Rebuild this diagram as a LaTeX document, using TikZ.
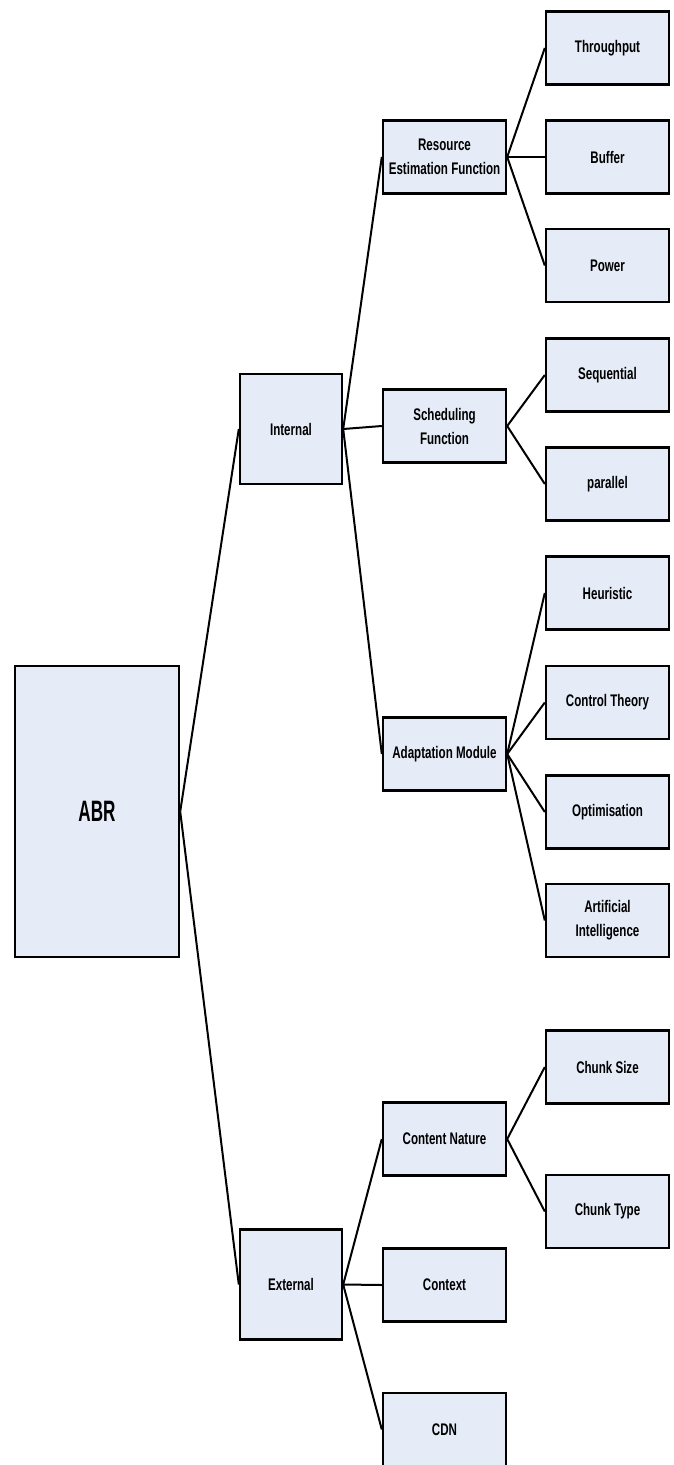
\documentclass[tikz,border=0pt]{standalone}
\usepackage{fontspec}
\setmainfont{Liberation Sans}[FakeStretch=0.69]
\newfontfamily\rootfont{Liberation Sans}[FakeStretch=0.58]
\definecolor{boxfill}{RGB}{230,236,247}
\begin{document}
\begin{tikzpicture}[x=1pt,y=-1pt,
  box/.style={draw=black, fill=boxfill, line width=2.4pt, inner sep=0pt,
    align=center, font=\bfseries\fontsize{16.8}{24}\selectfont},
  rootbox/.style={box, minimum width=164pt, minimum height=291pt,
    font=\rootfont\bfseries\fontsize{29.5}{32}\selectfont},
  midbox/.style={box, minimum width=102pt, minimum height=110pt},
  subbox/.style={box, minimum width=123pt, minimum height=73pt},
  leafbox/.style={box, minimum width=123pt, minimum height=73pt},
  link/.style={draw=black, line width=2pt}]
\useasboundingbox (0,0) rectangle (673,1465);

% root
\node[rootbox] (abr) at (97,811.5) {ABR};

% first level
\node[midbox] (int) at (291,429) {Internal};
\node[midbox] (ext) at (291,1284.5) {External};

% second level
\node[subbox] (res) at (444.5,157) {Resource\\Estimation Function};
\node[subbox] (sch) at (444.5,426) {Scheduling\\Function};
\node[subbox] (ada) at (444.5,754) {Adaptation Module};
\node[subbox] (con) at (444.5,1139) {Content Nature};
\node[subbox] (ctx) at (444.5,1285) {Context};
\node[subbox] (cdn) at (444.5,1429.5) {CDN};

% leaves
\node[leafbox] (thr) at (607.5,48) {Throughput};
\node[leafbox] (buf) at (607.5,157) {Buffer};
\node[leafbox] (pow) at (607.5,265.5) {Power};
\node[leafbox] (seq) at (607.5,375) {Sequential};
\node[leafbox] (par) at (607.5,484) {parallel};
\node[leafbox] (heu) at (607.5,593) {Heuristic};
\node[leafbox] (ctl) at (607.5,702.5) {Control Theory};
\node[leafbox] (opt) at (607.5,812) {Optimisation};
\node[leafbox] (art) at (607.5,920.5) {Artificial\\Intelligence};
\node[leafbox] (csz) at (607.5,1067) {Chunk Size};
\node[leafbox] (cty) at (607.5,1211.5) {Chunk Type};

% connectors
\draw[link] (abr.east) -- (int.west);
\draw[link] (abr.east) -- (ext.west);
\draw[link] (int.east) -- (res.west);
\draw[link] (int.east) -- (sch.west);
\draw[link] (int.east) -- (ada.west);
\draw[link] (ext.east) -- (con.west);
\draw[link] (ext.east) -- (ctx.west);
\draw[link] (ext.east) -- (cdn.west);
\draw[link] (res.east) -- (thr.west);
\draw[link] (res.east) -- (buf.west);
\draw[link] (res.east) -- (pow.west);
\draw[link] (sch.east) -- (seq.west);
\draw[link] (sch.east) -- (par.west);
\draw[link] (ada.east) -- (heu.west);
\draw[link] (ada.east) -- (ctl.west);
\draw[link] (ada.east) -- (opt.west);
\draw[link] (ada.east) -- (art.west);
\draw[link] (con.east) -- (csz.west);
\draw[link] (con.east) -- (cty.west);
\end{tikzpicture}
\end{document}
